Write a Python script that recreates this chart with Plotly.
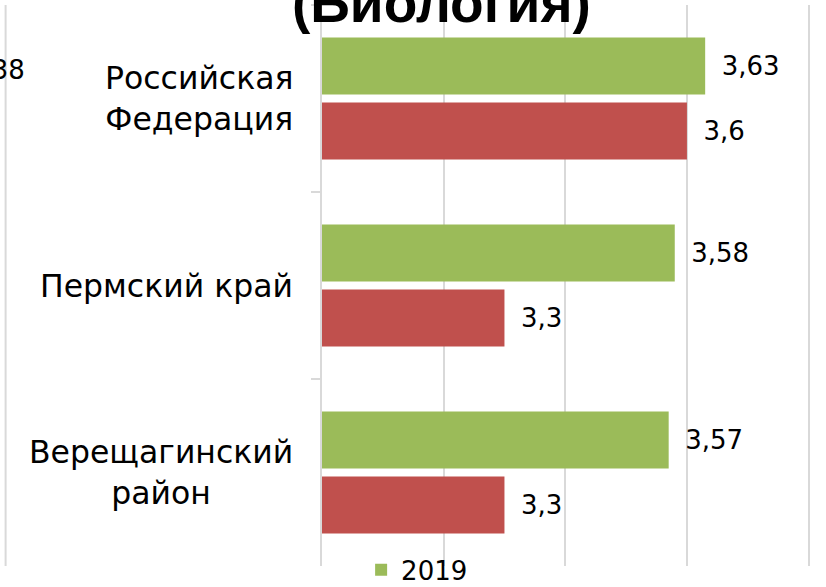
import plotly.graph_objects as go

categories = ["Российская<br>Федерация", "Пермский край", "Верещагинский<br>район"]
values_2019 = [3.63, 3.58, 3.57]
values_2018 = [3.6, 3.3, 3.3]
series_names = ["2019", "2018"]
title_text = "(Биология)"

FONT = "DejaVu Sans"
GREEN = "#9bbb59"
RED = "#c0504d"
GRID = "#d9d9d9"

def fmt(v):
    return "\u00a0\u2009" + ("%g" % v).replace(".", ",")

fig = go.Figure()
fig.add_trace(go.Bar(
    y=categories, x=values_2019, orientation="h", name=series_names[0],
    marker=dict(color=GREEN, line=dict(width=0)),
    text=[fmt(v) for v in values_2019], textposition="outside",
    textfont=dict(family=FONT, size=26, color="#000000"), cliponaxis=False,
    showlegend=True,
))
fig.add_trace(go.Bar(
    y=categories, x=values_2018, orientation="h", name=series_names[1],
    marker=dict(color=RED, line=dict(width=0)),
    text=[fmt(v) for v in values_2018], textposition="outside",
    textfont=dict(family=FONT, size=26, color="#000000"), cliponaxis=False,
    showlegend=False,
))

# category labels (centered multi-line)
for c in categories:
    fig.add_annotation(xref="paper", yref="y", x=-0.056, y=c, text=c,
                       xanchor="right", yanchor="middle", align="center",
                       showarrow=False,
                       font=dict(family=FONT, size=31.5, color="#000000"))

fig.add_annotation(xref="paper", yref="paper", x=0.244, y=1.003, text="<b>" + title_text + "</b>",
                   xanchor="center", yanchor="middle", showarrow=False,
                   font=dict(family="Liberation Sans", size=55, color="#000000"))

fig.add_annotation(xref="paper", yref="paper", x=-0.603, y=0.884, text="3,38",
                   xanchor="right", yanchor="middle", showarrow=False,
                   font=dict(family=FONT, size=26, color="#000000"))

fig.add_shape(type="line", xref="paper", yref="paper", x0=-0.647, x1=-0.647, y0=0, y1=1,
              line=dict(color=GRID, width=2))

fig.update_layout(
    width=826, height=587,
    margin=dict(l=322, r=15, t=5, b=21, autoexpand=False),
    paper_bgcolor="white", plot_bgcolor="white",
    barmode="group", bargap=0.305, bargroupgap=0.12,
    font=dict(family=FONT, size=26, color="#000000"),
    legend=dict(orientation="h", x=0.08, xanchor="left", y=0.035, yanchor="top",
                bgcolor="rgba(0,0,0,0)", font=dict(family=FONT, size=26)),
    xaxis=dict(range=[3.0, 3.804], dtick=0.2, showgrid=True, gridcolor=GRID, gridwidth=2,
               showticklabels=False, zeroline=False, showline=False, ticks=""),
    yaxis=dict(autorange="reversed", showticklabels=False, showline=True, linecolor=GRID,
               linewidth=2, ticks="outside", tickson="boundaries", ticklen=9,
               tickcolor=GRID, tickwidth=2, showgrid=False),
)

fig.write_html("out.html", config={"displayModeBar": False},
               post_script="document.body.style.margin='0';document.body.style.overflow='hidden';")
